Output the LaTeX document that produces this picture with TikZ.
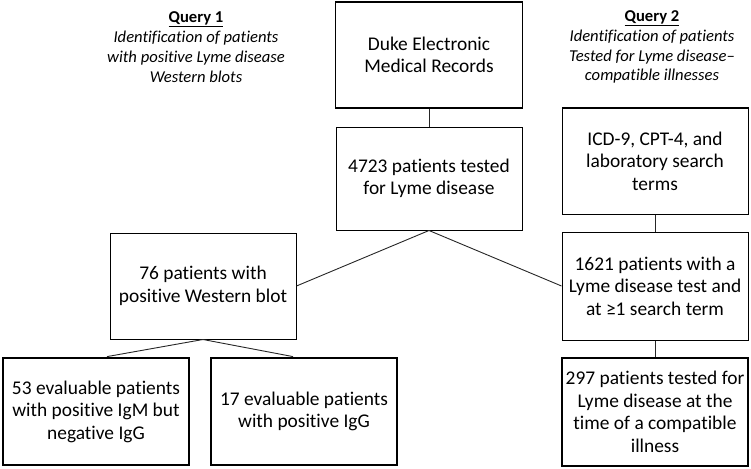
\documentclass[tikz,border=0pt]{standalone}
\usepackage{fontspec}
\setmainfont[Ligatures={NoCommon}]{Carlito}
\begin{document}
\begin{tikzpicture}[x=1pt,y=-1pt,
  box/.style={draw=black,line width=1pt,align=center,inner sep=0pt,
    font=\fontsize{19.4}{22.5}\selectfont,minimum width=186pt},
  thickbox/.style={box,line width=2.8pt},
  hdr/.style={align=center,inner sep=0pt,font=\fontsize{16.6}{19.8}\selectfont},
  conn/.style={line width=0.9pt,draw=black!85}]
\useasboundingbox (0,0) rectangle (751,468);
\node[box,line width=1.8pt,minimum width=187pt,minimum height=106pt] (duke) at (429,55) {Duke Electronic\\Medical Records};
\node[box,minimum height=103pt] (n4723) at (429,178.5) {4723 patients tested\\for Lyme disease};
\node[box,minimum height=106pt] (n76) at (203,286) {76 patients with\\positive Western blot};
\node[thickbox,minimum height=107pt] (n53) at (96,411.5) {53 evaluable patients\\with positive IgM but\\negative IgG};
\node[thickbox,minimum height=107pt] (n17) at (304,411.5) {17 evaluable patients\\with positive IgG};
\node[box,minimum height=106pt] (icd) at (655,161) {ICD-9, CPT-4, and\\laboratory search\\terms};
\node[box,minimum height=108pt] (n1621) at (655,286) {1621 patients with a\\Lyme disease test and\\at ≥1 search term};
\node[thickbox,minimum height=108pt] (n297) at (655,412) {297 patients tested for\\Lyme disease at the\\time of a compatible\\illness};
\node[hdr] (q1) at (196,47) {\underline{\textbf{Query 1}}\\\textit{Identification of patients}\\\textit{with positive Lyme disease}\\\textit{Western blots}};
\node[hdr] (q2) at (652,47) {\underline{\textbf{Query 2}}\\\textit{Identification of patients}\\\textit{Tested for Lyme disease–}\\\textit{compatible illnesses}};
\coordinate (a53) at ([xshift=11pt]n53.north);
\coordinate (a17) at ([xshift=-11pt]n17.north);
\draw[conn] (duke.south) -- (n4723.north);
\draw[conn] (n4723.south) -- (n76.east);
\draw[conn] (n4723.south) -- (n1621.west);
\draw[conn] (n76.south) -- (a53);
\draw[conn] (n76.south) -- (a17);
\draw[conn] (icd.south) -- (n1621.north);
\draw[conn] (n1621.south) -- (n297.north);
\end{tikzpicture}
\end{document}
